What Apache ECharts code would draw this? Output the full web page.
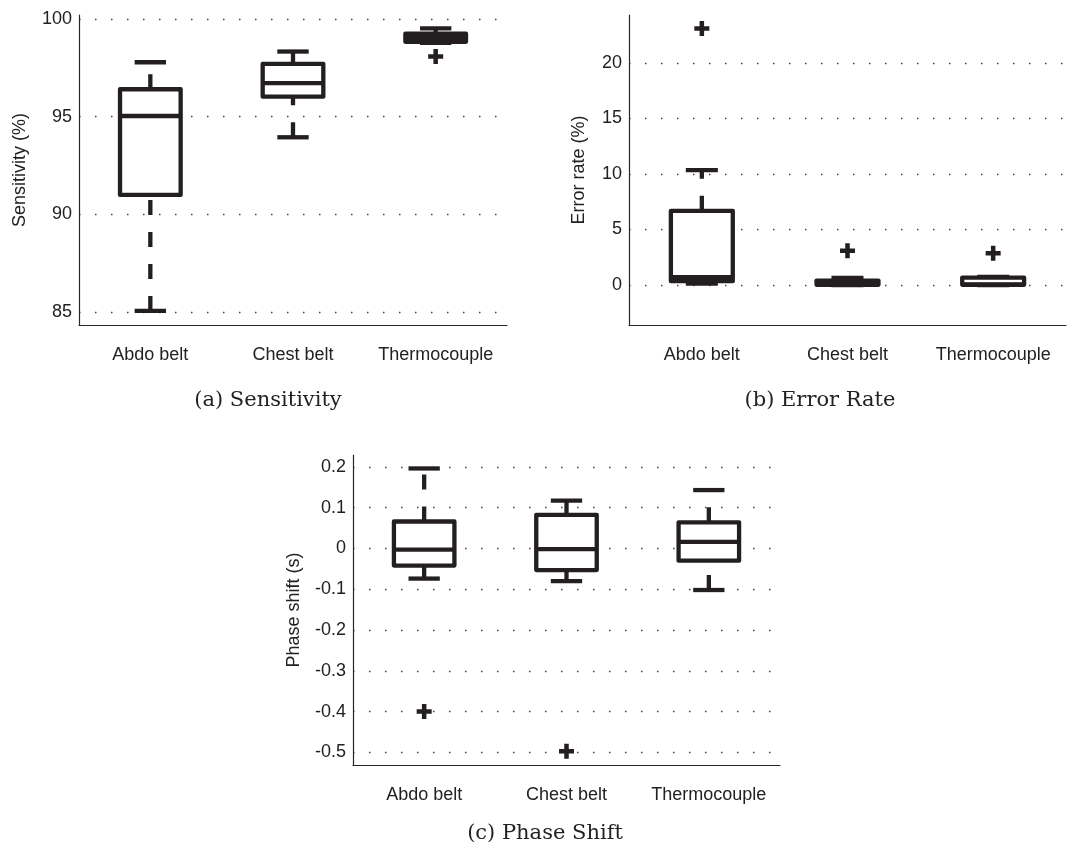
<!DOCTYPE html>
<html><head><meta charset="utf-8">
<script src="https://cdn.jsdelivr.net/npm/echarts@6/dist/echarts.min.js"></script>
<style>html,body{margin:0;padding:0;background:#fff}#c{width:1067px;height:854px}</style>
</head><body><div id="c"></div>
<script>
const categories = ['Abdo belt', 'Chest belt', 'Thermocouple'];
// each box: [lower whisker, Q1, median, Q3, upper whisker]
const sensitivityBoxes = [[85.05, 90.99, 95.03, 96.40, 97.78], [93.94, 96.02, 96.71, 97.70, 98.33], [98.78, 98.83, 99.02, 99.24, 99.52]];
const sensitivityOutliers = [[2, 98.07]];
const sensitivityTicks = [85, 90, 95, 100];
const errorBoxes = [[0.12, 0.34, 0.70, 6.68, 10.34], [0, 0.02, 0.15, 0.40, 0.65], [0, 0.02, 0.06, 0.66, 0.72]];
const errorOutliers = [[0, 23.08], [1, 3.08], [2, 2.85]];
const errorTicks = [0, 5, 10, 15, 20];
const phaseBoxes = [[-0.074, -0.042, -0.003, 0.066, 0.196], [-0.080, -0.053, -0.002, 0.082, 0.117], [-0.102, -0.030, 0.016, 0.064, 0.143]];
const phaseOutliers = [[0, -0.40], [1, -0.497]];
const phaseTicks = [-0.5, -0.4, -0.3, -0.2, -0.1, 0, 0.1, 0.2];

const INK = '#231f20';
const SANS = 'Liberation Sans, Arial, sans-serif';
const SERIF = 'DejaVu Serif, serif';
const LW = 4.3;

function boxRender(params, api) {
  const i = api.value(0);
  const lo = api.coord([i, api.value(1)]);
  const q1 = api.coord([i, api.value(2)]);
  const md = api.coord([i, api.value(3)]);
  const q3 = api.coord([i, api.value(4)]);
  const hi = api.coord([i, api.value(5)]);
  const band = api.size([1, 0])[0];
  const bw = band * 0.425, cw = band * 0.22;
  const cx = md[0];
  const solid = { stroke: INK, lineWidth: LW, fill: null };
  const dashed = { stroke: INK, lineWidth: LW, lineDash: [15, 17], fill: null };
  return { type: 'group', children: [
    { type: 'line', shape: { x1: cx, y1: lo[1], x2: cx, y2: q1[1] }, style: dashed },
    { type: 'line', shape: { x1: cx, y1: q3[1], x2: cx, y2: hi[1] }, style: dashed },
    { type: 'line', shape: { x1: cx - cw / 2, y1: lo[1], x2: cx + cw / 2, y2: lo[1] }, style: solid },
    { type: 'line', shape: { x1: cx - cw / 2, y1: hi[1], x2: cx + cw / 2, y2: hi[1] }, style: solid },
    { type: 'rect', shape: { x: cx - bw / 2, y: q3[1], width: bw, height: q1[1] - q3[1] }, style: { stroke: INK, lineWidth: LW, fill: '#fff', lineJoin: 'round' } },
    { type: 'line', shape: { x1: cx - bw / 2, y1: md[1], x2: cx + bw / 2, y2: md[1] }, style: solid }
  ]};
}

const CROSS = 'path://M35 0H65V35H100V65H65V100H35V65H0V35H35Z';

function xAxisOf(gi) {
  return {
    gridIndex: gi, type: 'category', data: categories, boundaryGap: true,
    axisLine: { show: true, onZero: false, lineStyle: { color: '#262626', width: 1.2 } },
    axisTick: { show: false },
    axisLabel: { interval: 0, fontSize: 18, color: '#222', fontFamily: SANS, margin: 21 },
    splitLine: { show: false }
  };
}
function yAxisOf(gi, ticks, min, max, name, nameGap) {
  return {
    gridIndex: gi, type: 'value', min: min, max: max,
    axisLine: { show: true, onZero: false, lineStyle: { color: '#262626', width: 1.2 } },
    axisTick: { show: false, customValues: ticks },
    axisLabel: { customValues: ticks, fontSize: 18, color: '#222', fontFamily: SANS, margin: 7 },
    splitLine: { show: true, lineStyle: { type: [1.5, 14.5], color: '#444', width: 1.3 } },
    name: name, nameLocation: 'middle', nameGap: nameGap,
    nameTextStyle: { fontSize: 18, color: '#222', fontFamily: SANS }
  };
}
function boxSeries(gi, boxes) {
  return {
    type: 'custom', xAxisIndex: gi, yAxisIndex: gi, renderItem: boxRender,
    encode: { x: 0, y: [1, 2, 3, 4, 5] },
    data: boxes.map((b, i) => [i].concat(b)), silent: true, z: 3
  };
}
function outlierSeries(gi, pts) {
  return {
    type: 'scatter', xAxisIndex: gi, yAxisIndex: gi, data: pts,
    symbol: CROSS, symbolSize: 15, itemStyle: { color: INK, opacity: 1 }, silent: true, z: 4
  };
}

const chart = echarts.init(document.getElementById('c'), null, { renderer: 'canvas' });
chart.setOption({
  animation: false,
  backgroundColor: '#fff',
  grid: [
    { left: 79, top: 15, width: 428, height: 310 },
    { left: 629, top: 15, width: 437, height: 310 },
    { left: 353, top: 455, width: 427, height: 310 }
  ],
  xAxis: [xAxisOf(0), xAxisOf(1), xAxisOf(2)],
  yAxis: [
    yAxisOf(0, sensitivityTicks, 84.33, 100.2, 'Sensitivity (%)', 50),
    yAxisOf(1, errorTicks, -3.6, 24.3, 'Error rate (%)', 41),
    yAxisOf(2, phaseTicks, -0.531, 0.229, 'Phase shift (s)', 50)
  ],
  series: [
    boxSeries(0, sensitivityBoxes), outlierSeries(0, sensitivityOutliers),
    boxSeries(1, errorBoxes), outlierSeries(1, errorOutliers),
    boxSeries(2, phaseBoxes), outlierSeries(2, phaseOutliers)
  ],
  graphic: [
    { type: 'text', style: { text: '(a) Sensitivity', x: 268, y: 401, align: 'center', verticalAlign: 'middle', fontSize: 21, fontFamily: SERIF, fill: '#222' } },
    { type: 'text', style: { text: '(b) Error Rate', x: 820, y: 401, align: 'center', verticalAlign: 'middle', fontSize: 21, fontFamily: SERIF, fill: '#222' } },
    { type: 'text', style: { text: '(c) Phase Shift', x: 545, y: 834, align: 'center', verticalAlign: 'middle', fontSize: 21, fontFamily: SERIF, fill: '#222' } }
  ]
});
</script></body></html>
